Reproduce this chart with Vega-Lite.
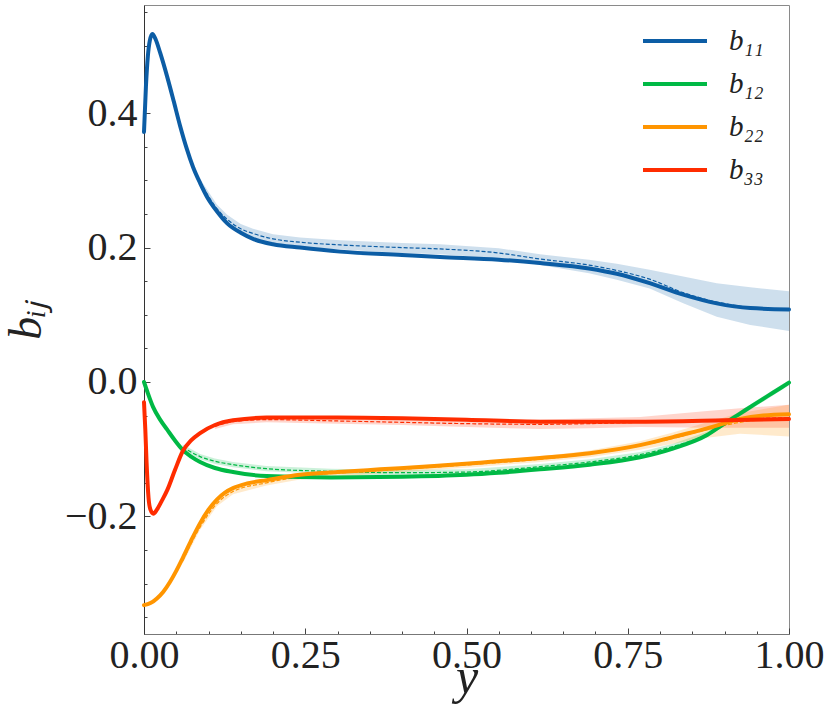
{
  "$schema": "https://vega.github.io/schema/vega-lite/v6.json",
  "description": "Anisotropy tensor components b_ij against y, solid = reference, dashed + band = prediction.",
  "width": 645,
  "height": 629,
  "autosize": "none",
  "padding": {"left": 144, "top": 5, "right": 41, "bottom": 93},
  "background": "white",
  "datasets": {
    "solid": [
      {"x": 0, "s": "b₁₁", "v": 0.372},
      {"x": 0.003, "s": "b₁₁", "v": 0.44},
      {"x": 0.006, "s": "b₁₁", "v": 0.485},
      {"x": 0.009, "s": "b₁₁", "v": 0.508},
      {"x": 0.013, "s": "b₁₁", "v": 0.518},
      {"x": 0.018, "s": "b₁₁", "v": 0.51},
      {"x": 0.025, "s": "b₁₁", "v": 0.49},
      {"x": 0.036, "s": "b₁₁", "v": 0.454},
      {"x": 0.046, "s": "b₁₁", "v": 0.418},
      {"x": 0.056, "s": "b₁₁", "v": 0.381},
      {"x": 0.066, "s": "b₁₁", "v": 0.348},
      {"x": 0.076, "s": "b₁₁", "v": 0.32},
      {"x": 0.087, "s": "b₁₁", "v": 0.296},
      {"x": 0.098, "s": "b₁₁", "v": 0.275},
      {"x": 0.113, "s": "b₁₁", "v": 0.254},
      {"x": 0.129, "s": "b₁₁", "v": 0.236},
      {"x": 0.15, "s": "b₁₁", "v": 0.222},
      {"x": 0.169, "s": "b₁₁", "v": 0.213},
      {"x": 0.2, "s": "b₁₁", "v": 0.205},
      {"x": 0.242, "s": "b₁₁", "v": 0.2},
      {"x": 0.304, "s": "b₁₁", "v": 0.194},
      {"x": 0.4, "s": "b₁₁", "v": 0.189},
      {"x": 0.459, "s": "b₁₁", "v": 0.186},
      {"x": 0.55, "s": "b₁₁", "v": 0.182},
      {"x": 0.614, "s": "b₁₁", "v": 0.177},
      {"x": 0.69, "s": "b₁₁", "v": 0.169},
      {"x": 0.733, "s": "b₁₁", "v": 0.161},
      {"x": 0.784, "s": "b₁₁", "v": 0.147},
      {"x": 0.836, "s": "b₁₁", "v": 0.13},
      {"x": 0.888, "s": "b₁₁", "v": 0.117},
      {"x": 0.94, "s": "b₁₁", "v": 0.11},
      {"x": 1.0, "s": "b₁₁", "v": 0.108},

      {"x": 0, "s": "b₁₂", "v": 0.0},
      {"x": 0.005, "s": "b₁₂", "v": -0.014},
      {"x": 0.014, "s": "b₁₂", "v": -0.037},
      {"x": 0.025, "s": "b₁₂", "v": -0.056},
      {"x": 0.036, "s": "b₁₂", "v": -0.071},
      {"x": 0.048, "s": "b₁₂", "v": -0.087},
      {"x": 0.06, "s": "b₁₂", "v": -0.101},
      {"x": 0.073, "s": "b₁₂", "v": -0.111},
      {"x": 0.087, "s": "b₁₂", "v": -0.119},
      {"x": 0.11, "s": "b₁₂", "v": -0.128},
      {"x": 0.138, "s": "b₁₂", "v": -0.134},
      {"x": 0.19, "s": "b₁₂", "v": -0.14},
      {"x": 0.29, "s": "b₁₂", "v": -0.142},
      {"x": 0.4, "s": "b₁₂", "v": -0.141},
      {"x": 0.5, "s": "b₁₂", "v": -0.138},
      {"x": 0.55, "s": "b₁₂", "v": -0.135},
      {"x": 0.614, "s": "b₁₂", "v": -0.13},
      {"x": 0.691, "s": "b₁₂", "v": -0.123},
      {"x": 0.769, "s": "b₁₂", "v": -0.112},
      {"x": 0.82, "s": "b₁₂", "v": -0.099},
      {"x": 0.873, "s": "b₁₂", "v": -0.079},
      {"x": 0.898, "s": "b₁₂", "v": -0.063},
      {"x": 0.924, "s": "b₁₂", "v": -0.047},
      {"x": 0.95, "s": "b₁₂", "v": -0.031},
      {"x": 0.975, "s": "b₁₂", "v": -0.016},
      {"x": 1.0, "s": "b₁₂", "v": -0.001},

      {"x": 0, "s": "b₂₂", "v": -0.332},
      {"x": 0.01, "s": "b₂₂", "v": -0.329},
      {"x": 0.02, "s": "b₂₂", "v": -0.322},
      {"x": 0.03, "s": "b₂₂", "v": -0.312},
      {"x": 0.04, "s": "b₂₂", "v": -0.298},
      {"x": 0.05, "s": "b₂₂", "v": -0.281},
      {"x": 0.06, "s": "b₂₂", "v": -0.262},
      {"x": 0.073, "s": "b₂₂", "v": -0.236},
      {"x": 0.087, "s": "b₂₂", "v": -0.21},
      {"x": 0.1, "s": "b₂₂", "v": -0.19},
      {"x": 0.113, "s": "b₂₂", "v": -0.175},
      {"x": 0.125, "s": "b₂₂", "v": -0.165},
      {"x": 0.138, "s": "b₂₂", "v": -0.158},
      {"x": 0.16, "s": "b₂₂", "v": -0.151},
      {"x": 0.19, "s": "b₂₂", "v": -0.146},
      {"x": 0.242, "s": "b₂₂", "v": -0.138},
      {"x": 0.3, "s": "b₂₂", "v": -0.134},
      {"x": 0.366, "s": "b₂₂", "v": -0.13},
      {"x": 0.45, "s": "b₂₂", "v": -0.125},
      {"x": 0.521, "s": "b₂₂", "v": -0.12},
      {"x": 0.614, "s": "b₂₂", "v": -0.113},
      {"x": 0.691, "s": "b₂₂", "v": -0.106},
      {"x": 0.769, "s": "b₂₂", "v": -0.094},
      {"x": 0.82, "s": "b₂₂", "v": -0.082},
      {"x": 0.873, "s": "b₂₂", "v": -0.069},
      {"x": 0.924, "s": "b₂₂", "v": -0.055},
      {"x": 0.96, "s": "b₂₂", "v": -0.05},
      {"x": 1.0, "s": "b₂₂", "v": -0.048},

      {"x": 0, "s": "b₃₃", "v": -0.03},
      {"x": 0.002, "s": "b₃₃", "v": -0.07},
      {"x": 0.004, "s": "b₃₃", "v": -0.12},
      {"x": 0.007, "s": "b₃₃", "v": -0.172},
      {"x": 0.01, "s": "b₃₃", "v": -0.19},
      {"x": 0.0145, "s": "b₃₃", "v": -0.196},
      {"x": 0.02, "s": "b₃₃", "v": -0.19},
      {"x": 0.027, "s": "b₃₃", "v": -0.178},
      {"x": 0.036, "s": "b₃₃", "v": -0.161},
      {"x": 0.048, "s": "b₃₃", "v": -0.131},
      {"x": 0.06, "s": "b₃₃", "v": -0.103},
      {"x": 0.073, "s": "b₃₃", "v": -0.087},
      {"x": 0.087, "s": "b₃₃", "v": -0.076},
      {"x": 0.11, "s": "b₃₃", "v": -0.064},
      {"x": 0.138, "s": "b₃₃", "v": -0.057},
      {"x": 0.19, "s": "b₃₃", "v": -0.053},
      {"x": 0.3, "s": "b₃₃", "v": -0.053},
      {"x": 0.4, "s": "b₃₃", "v": -0.054},
      {"x": 0.5, "s": "b₃₃", "v": -0.056},
      {"x": 0.614, "s": "b₃₃", "v": -0.059},
      {"x": 0.769, "s": "b₃₃", "v": -0.059},
      {"x": 0.9, "s": "b₃₃", "v": -0.057},
      {"x": 1.0, "s": "b₃₃", "v": -0.055}
    ],
    "ref": [
      {"x": 0.087, "s": "b₁₁", "m": 0.298, "lo": 0.294, "hi": 0.302},
      {"x": 0.113, "s": "b₁₁", "m": 0.258, "lo": 0.252, "hi": 0.264},
      {"x": 0.129, "s": "b₁₁", "m": 0.242, "lo": 0.235, "hi": 0.249},
      {"x": 0.15, "s": "b₁₁", "m": 0.228, "lo": 0.221, "hi": 0.235},
      {"x": 0.169, "s": "b₁₁", "m": 0.221, "lo": 0.214, "hi": 0.228},
      {"x": 0.2, "s": "b₁₁", "m": 0.213, "lo": 0.206, "hi": 0.22},
      {"x": 0.242, "s": "b₁₁", "m": 0.208, "lo": 0.201, "hi": 0.215},
      {"x": 0.304, "s": "b₁₁", "m": 0.204, "lo": 0.197, "hi": 0.211},
      {"x": 0.4, "s": "b₁₁", "m": 0.2, "lo": 0.192, "hi": 0.207},
      {"x": 0.459, "s": "b₁₁", "m": 0.198, "lo": 0.19, "hi": 0.205},
      {"x": 0.55, "s": "b₁₁", "m": 0.192, "lo": 0.184, "hi": 0.199},
      {"x": 0.614, "s": "b₁₁", "m": 0.183, "lo": 0.174, "hi": 0.19},
      {"x": 0.69, "s": "b₁₁", "m": 0.174, "lo": 0.162, "hi": 0.182},
      {"x": 0.733, "s": "b₁₁", "m": 0.166, "lo": 0.152, "hi": 0.176},
      {"x": 0.784, "s": "b₁₁", "m": 0.153, "lo": 0.139, "hi": 0.167},
      {"x": 0.836, "s": "b₁₁", "m": 0.133, "lo": 0.117, "hi": 0.157},
      {"x": 0.888, "s": "b₁₁", "m": 0.119, "lo": 0.097, "hi": 0.147},
      {"x": 0.94, "s": "b₁₁", "m": 0.111, "lo": 0.085, "hi": 0.141},
      {"x": 1.0, "s": "b₁₁", "m": 0.108, "lo": 0.076, "hi": 0.135},

      {"x": 0.06, "s": "b₁₂", "m": -0.097, "lo": -0.101, "hi": -0.093},
      {"x": 0.087, "s": "b₁₂", "m": -0.111, "lo": -0.115, "hi": -0.107},
      {"x": 0.11, "s": "b₁₂", "m": -0.118, "lo": -0.122, "hi": -0.114},
      {"x": 0.138, "s": "b₁₂", "m": -0.123, "lo": -0.127, "hi": -0.119},
      {"x": 0.19, "s": "b₁₂", "m": -0.129, "lo": -0.133, "hi": -0.125},
      {"x": 0.29, "s": "b₁₂", "m": -0.133, "lo": -0.137, "hi": -0.129},
      {"x": 0.4, "s": "b₁₂", "m": -0.135, "lo": -0.139, "hi": -0.131},
      {"x": 0.5, "s": "b₁₂", "m": -0.134, "lo": -0.138, "hi": -0.13},
      {"x": 0.614, "s": "b₁₂", "m": -0.126, "lo": -0.13, "hi": -0.122},
      {"x": 0.691, "s": "b₁₂", "m": -0.119, "lo": -0.123, "hi": -0.115},
      {"x": 0.769, "s": "b₁₂", "m": -0.108, "lo": -0.112, "hi": -0.104},
      {"x": 0.82, "s": "b₁₂", "m": -0.096, "lo": -0.1, "hi": -0.092},
      {"x": 0.873, "s": "b₁₂", "m": -0.078, "lo": -0.082, "hi": -0.074},
      {"x": 0.924, "s": "b₁₂", "m": -0.047, "lo": -0.051, "hi": -0.043},
      {"x": 1.0, "s": "b₁₂", "m": -0.001, "lo": -0.005, "hi": 0.003},

      {"x": 0.06, "s": "b₂₂", "m": -0.266, "lo": -0.27, "hi": -0.262},
      {"x": 0.087, "s": "b₂₂", "m": -0.216, "lo": -0.22, "hi": -0.212},
      {"x": 0.113, "s": "b₂₂", "m": -0.181, "lo": -0.185, "hi": -0.177},
      {"x": 0.138, "s": "b₂₂", "m": -0.163, "lo": -0.167, "hi": -0.159},
      {"x": 0.19, "s": "b₂₂", "m": -0.15, "lo": -0.154, "hi": -0.146},
      {"x": 0.242, "s": "b₂₂", "m": -0.141, "lo": -0.145, "hi": -0.137},
      {"x": 0.366, "s": "b₂₂", "m": -0.132, "lo": -0.136, "hi": -0.128},
      {"x": 0.521, "s": "b₂₂", "m": -0.122, "lo": -0.126, "hi": -0.118},
      {"x": 0.614, "s": "b₂₂", "m": -0.115, "lo": -0.119, "hi": -0.111},
      {"x": 0.691, "s": "b₂₂", "m": -0.107, "lo": -0.112, "hi": -0.102},
      {"x": 0.769, "s": "b₂₂", "m": -0.095, "lo": -0.101, "hi": -0.088},
      {"x": 0.82, "s": "b₂₂", "m": -0.084, "lo": -0.092, "hi": -0.075},
      {"x": 0.873, "s": "b₂₂", "m": -0.071, "lo": -0.083, "hi": -0.06},
      {"x": 0.924, "s": "b₂₂", "m": -0.06, "lo": -0.077, "hi": -0.046},
      {"x": 1.0, "s": "b₂₂", "m": -0.054, "lo": -0.081, "hi": -0.034},

      {"x": 0.11, "s": "b₃₃", "m": -0.066, "lo": -0.07, "hi": -0.062},
      {"x": 0.138, "s": "b₃₃", "m": -0.059, "lo": -0.063, "hi": -0.055},
      {"x": 0.19, "s": "b₃₃", "m": -0.056, "lo": -0.06, "hi": -0.052},
      {"x": 0.3, "s": "b₃₃", "m": -0.058, "lo": -0.062, "hi": -0.054},
      {"x": 0.4, "s": "b₃₃", "m": -0.06, "lo": -0.064, "hi": -0.056},
      {"x": 0.5, "s": "b₃₃", "m": -0.062, "lo": -0.067, "hi": -0.057},
      {"x": 0.614, "s": "b₃₃", "m": -0.063, "lo": -0.07, "hi": -0.056},
      {"x": 0.691, "s": "b₃₃", "m": -0.062, "lo": -0.069, "hi": -0.054},
      {"x": 0.769, "s": "b₃₃", "m": -0.06, "lo": -0.067, "hi": -0.052},
      {"x": 0.873, "s": "b₃₃", "m": -0.057, "lo": -0.068, "hi": -0.043},
      {"x": 0.924, "s": "b₃₃", "m": -0.055, "lo": -0.068, "hi": -0.039},
      {"x": 1.0, "s": "b₃₃", "m": -0.053, "lo": -0.068, "hi": -0.034}
    ]
  },
  "config": {
    "view": {"stroke": "#8a8a8a", "strokeWidth": 1},
    "axis": {
      "grid": false,
      "labelFont": "Liberation Serif",
      "labelFontSize": 40,
      "labelColor": "#222",
      "labelFlush": false,
      "titleFont": "Liberation Serif",
      "titleFontSize": 46,
      "titleFontStyle": "italic",
      "titleFontWeight": "normal",
      "titleColor": "#222",
      "domainColor": "#444",
      "tickColor": "#444",
      "tickWidth": 1
    }
  },
  "resolve": {"axis": {"x": "independent", "y": "independent"}},
  "layer": [
    {
      "data": {"name": "ref"},
      "mark": {"type": "area", "opacity": 0.2, "strokeWidth": 1},
      "encoding": {
        "x": {
          "field": "x", "type": "quantitative", "scale": {"domain": [0, 1]},
          "axis": {
            "orient": "bottom", "title": null, "labels": false, "domain": false, "tickSize": -3,
            "values": [0.05, 0.1, 0.15, 0.2, 0.3, 0.35, 0.4, 0.45, 0.55, 0.6, 0.65, 0.7, 0.8, 0.85, 0.9, 0.95]
          }
        },
        "y": {
          "field": "lo", "type": "quantitative", "scale": {"domain": [-0.375, 0.561], "nice": false, "zero": false},
          "axis": {
            "orient": "left", "title": null, "labels": false, "domain": false, "tickSize": -3,
            "values": [-0.35, -0.3, -0.25, -0.15, -0.1, -0.05, 0.05, 0.1, 0.15, 0.25, 0.3, 0.35, 0.45, 0.5, 0.55]
          }
        },
        "y2": {"field": "hi"},
        "fill": {"field": "s", "type": "nominal", "scale": {"range": ["#0C5DA5", "#00B945", "#FF9500", "#FF2C00"]}, "legend": null}
      }
    },
    {
      "data": {"name": "ref"},
      "mark": {"type": "line", "strokeWidth": 1.2, "strokeDash": [4, 2], "interpolate": "monotone"},
      "encoding": {
        "x": {"field": "x", "type": "quantitative", "axis": null},
        "y": {"field": "m", "type": "quantitative", "axis": null},
        "color": {"field": "s", "type": "nominal", "scale": {"range": ["#0C5DA5", "#00B945", "#FF9500", "#FF2C00"]}, "legend": null}
      }
    },
    {
      "data": {"name": "solid"},
      "mark": {"type": "line", "strokeWidth": 4, "strokeCap": "round", "interpolate": "monotone"},
      "encoding": {
        "x": {
          "field": "x", "type": "quantitative",
          "axis": {
            "orient": "bottom",
            "title": "y",
            "values": [0, 0.25, 0.5, 0.75, 1],
            "format": ".2f",
            "tickSize": -6,
            "labelPadding": 7,
            "domainColor": "#777",
            "titleY": 58,
            "titleBaseline": "alphabetic",
            "titleFontSize": 50
          }
        },
        "y": {
          "field": "v", "type": "quantitative",
          "axis": {
            "orient": "left",
            "title": "bᵢⱼ",
            "values": [-0.2, 0, 0.2, 0.4],
            "format": ".1f",
            "tickSize": -6,
            "labelPadding": 13,
            "domainColor": "#333",
            "titleX": -104,
            "titleY": 315,
            "titleBaseline": "alphabetic"
          }
        },
        "stroke": {
          "field": "s", "type": "nominal",
          "scale": {"domain": ["b₁₁", "b₁₂", "b₂₂", "b₃₃"], "range": ["#0C5DA5", "#00B945", "#FF9500", "#FF2C00"]},
          "legend": {
            "title": null,
            "orient": "none",
            "legendX": 513,
            "legendY": 18,
            "symbolType": "M-2,0H2",
            "symbolSize": 1024,
            "symbolStrokeWidth": 4,
            "labelFont": "Liberation Serif",
            "labelFontStyle": "italic",
            "labelFontSize": 29,
            "labelColor": "#222",
            "labelOffset": 36,
            "rowPadding": 10
          }
        }
      }
    }
  ]
}
